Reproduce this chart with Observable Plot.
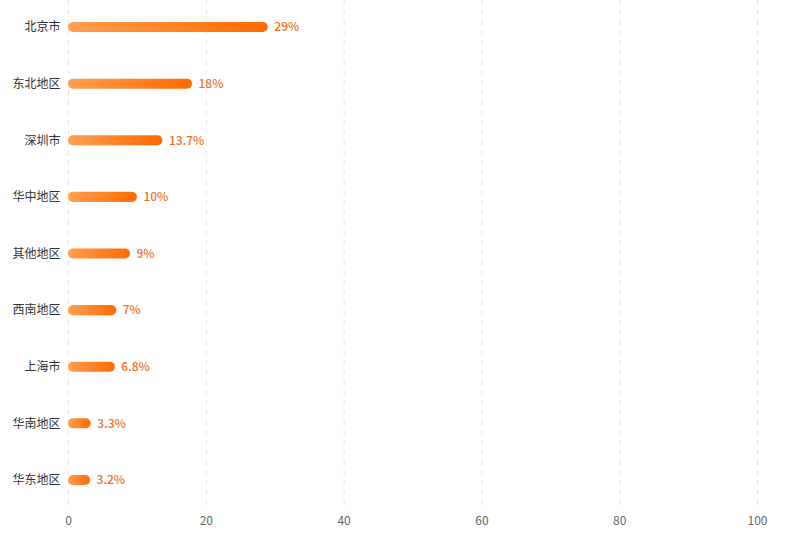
<!DOCTYPE html>
<html>
<head>
<meta charset="utf-8">
<script src="https://cdn.jsdelivr.net/npm/d3@7"></script>
<script src="https://cdn.jsdelivr.net/npm/@observablehq/plot@0.6"></script>
<style>
  body { margin: 0; background: #fff; }
  svg { font-family: "Noto Sans CJK SC", "Noto Sans", sans-serif; }
</style>
</head>
<body>
<div id="chart"></div>
<script>
const regions = ["北京市", "东北地区", "深圳市", "华中地区", "其他地区", "西南地区", "上海市", "华南地区", "华东地区"];
const shares = [29, 18, 13.7, 10, 9, 7, 6.8, 3.3, 3.2];
const valueLabels = ["29%", "18%", "13.7%", "10%", "9%", "7%", "6.8%", "3.3%", "3.2%"];
const xTicks = [0, 20, 40, 60, 80, 100];

const data = regions.map((r, i) => ({region: r, value: shares[i], label: valueLabels[i]}));

const chart = Plot.plot({
  width: 789,
  height: 545,
  marginLeft: 68,
  marginRight: 32,
  marginTop: 0,
  marginBottom: 38,
  style: {fontSize: "12px", fontFamily: "'Noto Sans CJK SC', 'Noto Sans', sans-serif", background: "#fff"},
  x: {domain: [0, 100], ticks: xTicks},
  y: {domain: regions, paddingInner: 0.823, paddingOuter: 0.389, round: false},
  marks: [
    Plot.gridX(xTicks, {stroke: "#e3e3e3", strokeOpacity: 1, strokeDasharray: "5,5"}),
    Plot.axisX({ticks: xTicks, tickSize: 0, tickPadding: 9, label: null, fill: "#666"}),
    Plot.axisY({tickSize: 0, tickPadding: 8, label: null, fill: "#333"}),
    Plot.barX(data, {x: "value", y: "region", fill: "url(#barGrad)", rx: 5}),
    Plot.text(data, {x: "value", y: "region", text: "label", dx: 6, textAnchor: "start", fill: "#EE6F1E", fontSize: 12, fontWeight: 500})
  ]
});

const ns = "http://www.w3.org/2000/svg";
const defs = document.createElementNS(ns, "defs");
const grad = document.createElementNS(ns, "linearGradient");
grad.setAttribute("id", "barGrad");
grad.setAttribute("x1", "0"); grad.setAttribute("y1", "0");
grad.setAttribute("x2", "1"); grad.setAttribute("y2", "0");
[["0%", "#FF9F52"], ["100%", "#FF6A00"]].forEach(([o, c]) => {
  const s = document.createElementNS(ns, "stop");
  s.setAttribute("offset", o);
  s.setAttribute("stop-color", c);
  grad.appendChild(s);
});
defs.appendChild(grad);
chart.insertBefore(defs, chart.firstChild);

document.getElementById("chart").appendChild(chart);
</script>
</body>
</html>
